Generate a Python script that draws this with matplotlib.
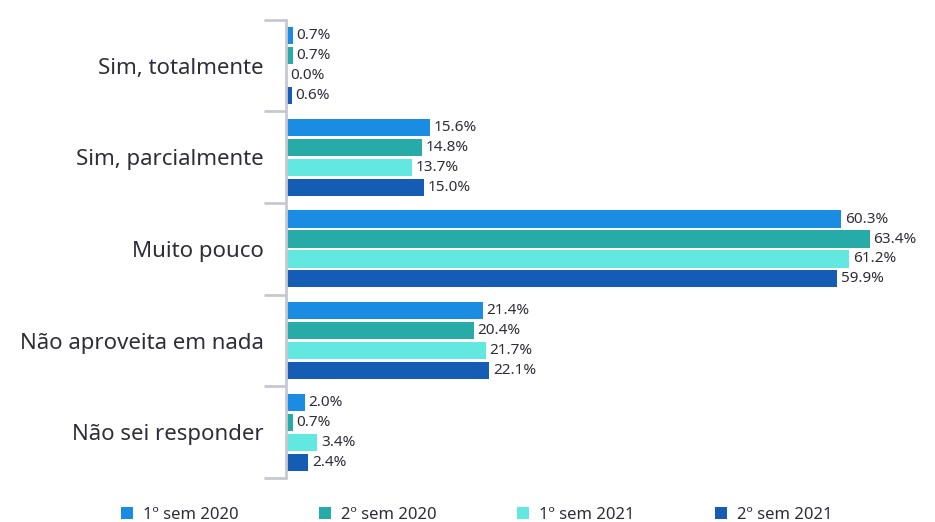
import matplotlib.pyplot as plt
import numpy as np
from matplotlib.patches import Patch
from matplotlib.ticker import FixedLocator

# ====== DADOS ======
categorias = ['Sim, totalmente', 'Sim, parcialmente', 'Muito pouco',
              'Não aproveita em nada', 'Não sei responder']
series = ['1º sem 2020', '2º sem 2020', '1º sem 2021', '2º sem 2021']
sem1_2020 = [0.7, 15.6, 60.3, 21.4, 2.0]
sem2_2020 = [0.7, 14.8, 63.4, 20.4, 0.7]
sem1_2021 = [0.0, 13.7, 61.2, 21.7, 3.4]
sem2_2021 = [0.6, 15.0, 59.9, 22.1, 2.4]
cores = ['#1a8de3', '#26aba8', '#62e8e0', '#155cb4']
# ===================

plt.rcParams['font.family'] = ['Noto Sans', 'DejaVu Sans']
TXT = '#2e2e38'
GRID = '#c8c8d0'

fig = plt.figure(figsize=(9.35, 5.22), dpi=100)
ax = fig.add_axes([0.306, 0.084, 0.689, 0.878])

y = np.arange(len(categorias))
passo = 0.218
altura = 0.186
valores = [sem1_2020, sem2_2020, sem1_2021, sem2_2021]

for i, (vals, cor) in enumerate(zip(valores, cores)):
    pos = y + (i - 1.5) * passo
    ax.barh(pos, vals, height=altura, color=cor, zorder=2)
    for p, v in zip(pos, vals):
        ax.text(v + 0.4, p, f'{v:.1f}%', va='center', ha='left',
                fontsize=11, color=TXT)

ax.set_ylim(len(categorias) - 0.5, -0.5)
ax.set_xlim(0, 70)
ax.set_yticks(y)
ax.set_yticklabels(categorias, fontsize=16, color=TXT)
ax.tick_params(axis='y', which='major', length=0, pad=16)
ax.yaxis.set_minor_locator(FixedLocator(np.arange(-0.5, len(categorias), 1.0)))
ax.tick_params(axis='y', which='minor', length=16, width=2, color=GRID)
ax.set_xticks([])

for s in ['top', 'right', 'bottom']:
    ax.spines[s].set_visible(False)
ax.spines['left'].set_color(GRID)
ax.spines['left'].set_linewidth(2)

handles = [Patch(facecolor=c, edgecolor='none') for c in cores]
fig.legend(handles, series, loc='lower center', bbox_to_anchor=(0.51, -0.03),
           ncol=4, frameon=False, fontsize=12, handlelength=0.75, handleheight=0.75,
           handletextpad=0.6, columnspacing=4.8, labelcolor=TXT)

plt.savefig('out.png', dpi=100)
plt.close()
